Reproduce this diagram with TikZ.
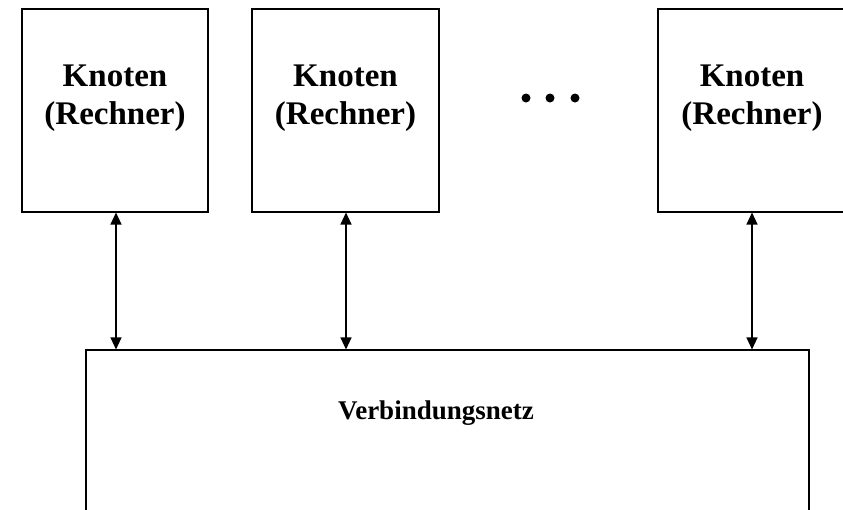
\documentclass[tikz,border=0pt]{standalone}
\usepackage{fontspec}
\setmainfont{Liberation Serif}
\usetikzlibrary{arrows.meta}
\begin{document}
\begin{tikzpicture}[x=1pt, y=-1pt,
  box/.style={draw, line width=1.1pt, rectangle, inner sep=0pt},
  nodelabel/.style={font=\bfseries\fontsize{33}{38}\selectfont, align=center, anchor=north, inner sep=0pt},
  netlabel/.style={font=\bfseries\fontsize{27}{32}\selectfont, anchor=base, inner sep=0pt},
  dot/.style={circle, fill=black, inner sep=0pt, minimum size=9pt},
  link/.style={line width=1.2pt, {Triangle[length=12pt 0 0, width=11pt 0 0]}-{Triangle[length=12pt 0 0, width=11pt 0 0]}}]
  \clip (0,0) rectangle (843,509);
  \fill[white] (0,0) rectangle (843,509);

  % computing nodes
  \node[box, minimum width=186pt, minimum height=203pt] (k1) at (115,110.5) {};
  \node[box, minimum width=187pt, minimum height=203pt] (k2) at (345.5,110.5) {};
  \node[box, minimum width=188pt, minimum height=203pt] (k3) at (752,110.5) {};
  \node[nodelabel] (t1) at (115,65) {Knoten\\(Rechner)};
  \node[nodelabel] (t2) at (345.5,65) {Knoten\\(Rechner)};
  \node[nodelabel] (t3) at (752,65) {Knoten\\(Rechner)};

  % ellipsis between the nodes
  \node[dot] (d1) at (526,98) {};
  \node[dot] (d2) at (550,98) {};
  \node[dot] (d3) at (575,98) {};

  % interconnection network
  \node[box, minimum width=723pt, minimum height=200pt] (net) at (447.5,450) {};
  \node[netlabel] (tn) at (436,419) {Verbindungsnetz};

  % links between nodes and network
  \coordinate (a1) at (116,0);
  \coordinate (a2) at (346,0);
  \coordinate (a3) at (752,0);
  \draw[link] (k1.south -| a1) -- (net.north -| a1);
  \draw[link] (k2.south -| a2) -- (net.north -| a2);
  \draw[link] (k3.south -| a3) -- (net.north -| a3);
\end{tikzpicture}
\end{document}
